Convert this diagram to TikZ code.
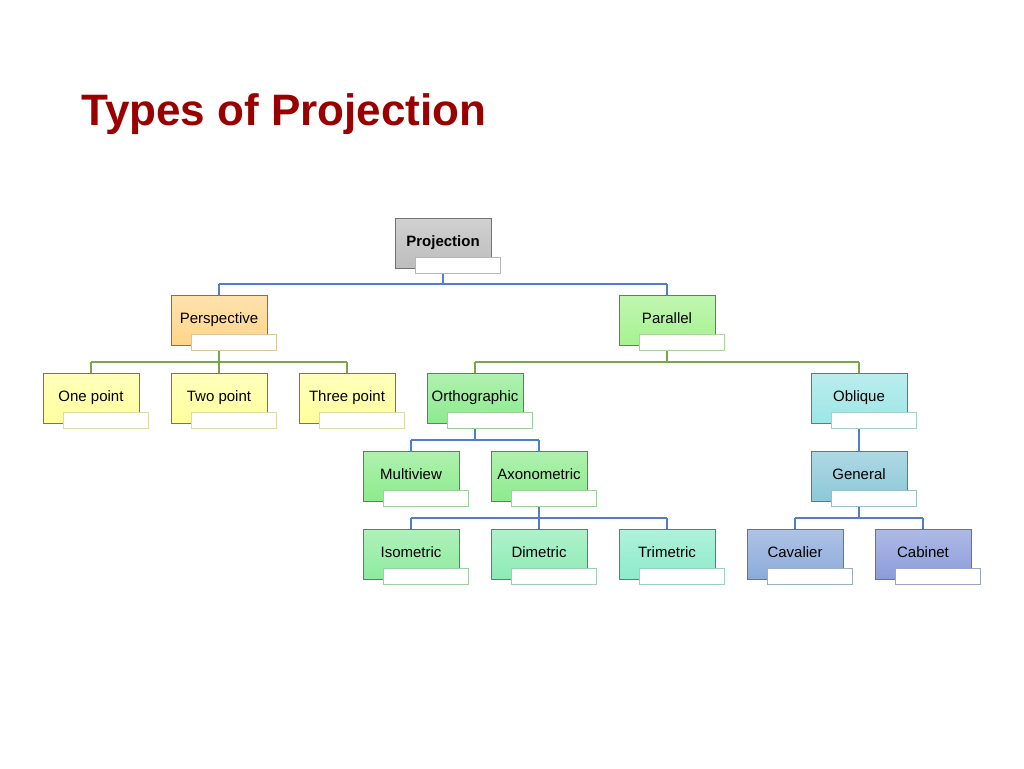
\documentclass[tikz,border=0pt]{standalone}
\usepackage{fontspec}
\setmainfont{Liberation Sans}
\usetikzlibrary{positioning, calc}
\definecolor{titlered}{HTML}{990000}
\definecolor{cgray}{HTML}{BDBDBD}
\definecolor{corange}{HTML}{FFD58A}
\definecolor{cgreenA}{HTML}{A6F290}
\definecolor{cyellow}{HTML}{FFFF9E}
\definecolor{cgreenB}{HTML}{8DEB8D}
\definecolor{ccyan}{HTML}{9DE6E6}
\definecolor{cgreenC}{HTML}{8DEB9E}
\definecolor{cgreenD}{HTML}{8DEBB5}
\definecolor{cgreenE}{HTML}{8DEBCB}
\definecolor{cblueA}{HTML}{8CC8D8}
\definecolor{cblueB}{HTML}{8CAADA}
\definecolor{cblueC}{HTML}{8C9CDA}
\definecolor{lblue}{HTML}{4F7FCB}
\definecolor{lgreen}{HTML}{77A845}
\tikzstyle{unit} = [rectangle, minimum width=96pt, minimum height=50pt, text centered, font=\fontsize{15pt}{17pt}\selectfont, draw=black!55, inner sep=0pt]
\tikzstyle{tab} = [rectangle, minimum width=85pt, minimum height=16pt, fill=white, draw, inner sep=0pt]
\tikzstyle{link} = [line width=1.2pt]
% box with its white tab below right
\newcommand{\unitbox}[5]{%
  \node (#1) [unit, top color=#4!70, bottom color=#4] at (#2,#3) {\raisebox{3pt}{#5}};
  \node (#1-tab) [tab, draw=#4!80!black!70, anchor=north west] at ($(#1.south west)+(20pt,11pt)$) {};
}
\begin{document}
\begin{tikzpicture}[x=1pt, y=-1pt]
        \useasboundingbox (0,0) rectangle (1024,768);
        \node (title) [anchor=west, text=titlered, font=\fontsize{44pt}{48pt}\selectfont\bfseries] at (78,114) {Types of Projection};

        % connectors
        \draw [link, lblue] (443,268) -- (443,284);
        \draw [link, lblue] (219,284) -- (667,284);
        \draw [link, lblue] (219,284) -- (219,300);
        \draw [link, lblue] (667,284) -- (667,300);
        \draw [link, lgreen] (219,346) -- (219,362);
        \draw [link, lgreen] (91,362) -- (347,362);
        \draw [link, lgreen] (91,362) -- (91,378);
        \draw [link, lgreen] (219,362) -- (219,378);
        \draw [link, lgreen] (347,362) -- (347,378);
        \draw [link, lgreen] (667,346) -- (667,362);
        \draw [link, lgreen] (475,362) -- (859,362);
        \draw [link, lgreen] (475,362) -- (475,378);
        \draw [link, lgreen] (859,362) -- (859,378);
        \draw [link, lblue] (475,424) -- (475,440);
        \draw [link, lblue] (411,440) -- (539,440);
        \draw [link, lblue] (411,440) -- (411,456);
        \draw [link, lblue] (539,440) -- (539,456);
        \draw [link, lblue] (539,502) -- (539,518);
        \draw [link, lblue] (411,518) -- (667,518);
        \draw [link, lblue] (411,518) -- (411,534);
        \draw [link, lblue] (539,518) -- (539,534);
        \draw [link, lblue] (667,518) -- (667,534);
        \draw [link, lblue] (859,424) -- (859,456);
        \draw [link, lblue] (859,502) -- (859,518);
        \draw [link, lblue] (795,518) -- (923,518);
        \draw [link, lblue] (795,518) -- (795,534);
        \draw [link, lblue] (923,518) -- (923,534);

        % boxes
        \unitbox{projection}{443}{243}{cgray}{\textbf{Projection}}
        \unitbox{perspective}{219}{320}{corange}{Perspective}
        \unitbox{parallel}{667}{320}{cgreenA}{Parallel}
        \unitbox{onept}{91}{398}{cyellow}{One point}
        \unitbox{twopt}{219}{398}{cyellow}{Two point}
        \unitbox{threept}{347}{398}{cyellow}{Three point}
        \unitbox{ortho}{475}{398}{cgreenB}{Orthographic}
        \unitbox{oblique}{859}{398}{ccyan}{Oblique}
        \unitbox{multiview}{411}{476}{cgreenB}{Multiview}
        \unitbox{axono}{539}{476}{cgreenB}{Axonometric}
        \unitbox{general}{859}{476}{cblueA}{General}
        \unitbox{iso}{411}{554}{cgreenC}{Isometric}
        \unitbox{di}{539}{554}{cgreenD}{Dimetric}
        \unitbox{tri}{667}{554}{cgreenE}{Trimetric}
        \unitbox{cavalier}{795}{554}{cblueB}{Cavalier}
        \unitbox{cabinet}{923}{554}{cblueC}{Cabinet}
\end{tikzpicture}
\end{document}
